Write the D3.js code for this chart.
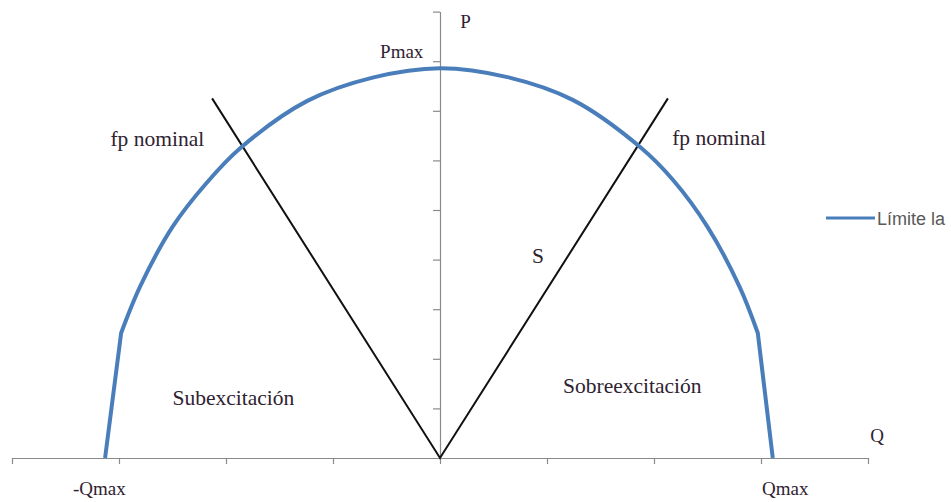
<!DOCTYPE html>
<html>
<head>
<meta charset="utf-8">
<script src="https://cdn.jsdelivr.net/npm/d3@7"></script>
<style>
	body { margin: 0; background: #fff; }
	svg { display: block; }
</style>
</head>
<body>
<svg id="chart" width="951" height="502"></svg>
<script>
// Capability limit (Q, P)
var limitQ = [-3.13, -2.98, -2.80, -2.50, -2.18, -1.86, -1.24, -0.63, 0, 0.63, 1.24, 1.87, 2.18, 2.50, 2.80, 2.97, 3.11];
var limitP = [0, 2.52, 3.47, 4.66, 5.55, 6.26, 7.20, 7.67, 7.86, 7.68, 7.22, 6.27, 5.60, 4.66, 3.45, 2.52, 0];

// Nominal power factor lines (S)
var fpQ = [-2.13, 0, 2.13];
var fpP = [7.25, 0, 7.25];

// Axis ticks
var qTicks = [-4, -3, -2, -1, 0, 1, 2, 3, 4];
var pTicks = [1, 2, 3, 4, 5, 6, 7, 8, 9];

// Annotations
var labelText = ["P", "Pmax", "fp nominal", "fp nominal", "S", "Subexcitación", "Sobreexcitación", "Q", "-Qmax", "Qmax"];
var labelQ = [0.19, -0.56, -3.08, 2.17, 0.86, -2.50, 1.15, 4.02, -3.43, 3.01];
var labelP = [8.67, 8.06, 6.29, 6.31, 3.93, 1.07, 1.31, 0.32, -0.75, -0.75];
var labelKind = ["axis", "axis", "inner", "inner", "inner", "inner", "inner", "axis", "axis", "axis"];

var legendName = "Límite la";

var svg = d3.select("#chart");

var x = d3.scaleLinear().domain([-4, 4]).range([12, 868]),
	y = d3.scaleLinear().domain([0, 9]).range([458, 11.6]);

var axisColor = "#8a8a8a";

// Q axis
var gx = svg.append("g")
	.attr("transform", "translate(0," + y(0) + ")")
	.call(d3.axisBottom(x).tickValues(qTicks).tickSize(6).tickSizeOuter(0).tickFormat(""));

// P axis
var gy = svg.append("g")
	.attr("transform", "translate(" + x(0) + ",0)")
	.call(d3.axisLeft(y).tickValues(pTicks).tickSize(7).tickSizeOuter(0).tickFormat(""));

[gx, gy].forEach(function(g) {
	g.select(".domain").attr("stroke", axisColor).attr("stroke-width", 1.2);
	g.selectAll(".tick line").attr("stroke", axisColor).attr("stroke-width", 1.2);
});

// fp nominal lines
var fpData = fpQ.map((q, i) => [q, fpP[i]]);
svg.append("path")
	.datum(fpData)
	.attr("fill", "none")
	.attr("stroke", "#111")
	.attr("stroke-width", 2)
	.attr("d", d3.line().x(d => x(d[0])).y(d => y(d[1])));

// Limit curve: straight ends, smooth arc in between
var limitData = limitQ.map((q, i) => [q, limitP[i]]);
var n = limitData.length;
var smooth = d3.line().x(d => x(d[0])).y(d => y(d[1])).curve(d3.curveCatmullRom.alpha(0.5));

var arcPath = smooth(limitData.slice(1, n - 1));
var pathD = "M" + x(limitData[0][0]) + "," + y(limitData[0][1]) + "L" + arcPath.slice(1)
	+ "L" + x(limitData[n - 1][0]) + "," + y(limitData[n - 1][1]);

svg.append("path")
	.attr("fill", "none")
	.attr("stroke", "#4a7ebb")
	.attr("stroke-width", 4)
	.attr("stroke-linejoin", "round")
	.attr("d", pathD);

// Text labels
svg.selectAll(".lbl")
	.data(labelText)
	.enter()
	.append("text")
	.attr("class", "lbl")
	.attr("x", (d, i) => x(labelQ[i]))
	.attr("y", (d, i) => y(labelP[i]))
	.style("font-family", "'Liberation Serif', 'Times New Roman', serif")
	.style("font-size", (d, i) => labelKind[i] == "inner" ? "21.5px" : "19px")
	.style("fill", "#2f2231")
	.text(d => d);

// Legend
var legend = svg.append("g")
	.attr("transform", "translate(826,218)");

legend.append("line")
	.attr("x1", 0)
	.attr("x2", 49)
	.attr("stroke", "#4a7ebb")
	.attr("stroke-width", 3);

legend.append("text")
	.attr("x", 51)
	.attr("y", 7)
	.style("font-family", "'Liberation Sans', Arial, sans-serif")
	.style("font-size", "18px")
	.style("fill", "#595959")
	.text(legendName);
</script>
</body>
</html>
